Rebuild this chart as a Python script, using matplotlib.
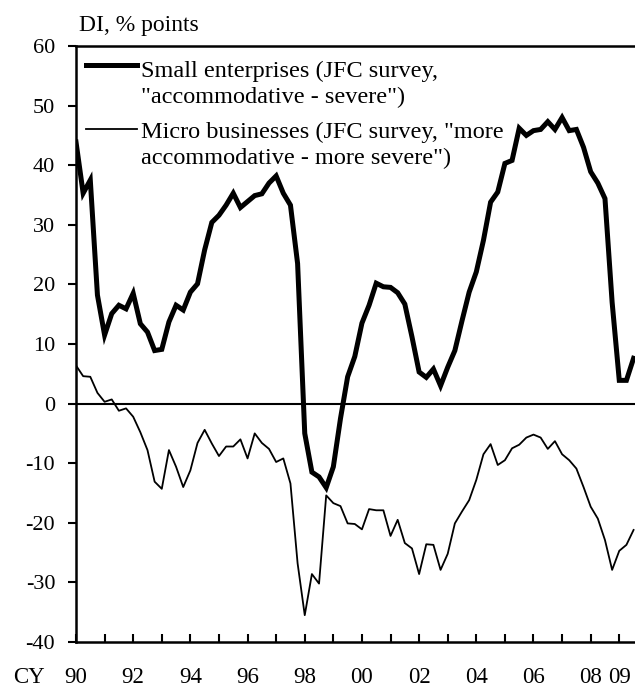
import numpy as np
import matplotlib
matplotlib.use("Agg")
import matplotlib.pyplot as plt

plt.rcParams["font.family"] = ["Liberation Serif", "DejaVu Serif"]
plt.rcParams["axes.unicode_minus"] = False

# Quarterly lending attitude DI, 1990 Q1 onward
start_year = 1990
small_enterprises = [
    43.9, 35.3, 37.5, 18.2, 11.5, 15.1, 16.5, 15.9, 18.5, 13.4,
    12.0, 8.9, 9.1, 13.7, 16.5, 15.7, 18.7, 20.1, 25.8, 30.4,
    31.6, 33.3, 35.3, 32.9, 33.9, 34.9, 35.2, 37.0, 38.2, 35.3,
    33.3, 23.5, -5.0, -11.5, -12.3, -14.1, -10.6, -2.5, 4.5, 7.9,
    13.5, 16.5, 20.2, 19.6, 19.5, 18.6, 16.7, 11.2, 5.3, 4.4,
    5.8, 3.0, 6.1, 8.9, 13.9, 18.7, 22.1, 27.4, 33.8, 35.5,
    40.3, 40.8, 46.2, 45.0, 45.8, 46.0, 47.3, 46.0, 48.0, 45.8,
    46.0, 43.0, 38.9, 37.0, 34.4, 17.0, 3.9, 3.9, 7.6,
]
micro_businesses = [
    6.4, 4.6, 4.5, 1.8, 0.3, 0.7, -1.2, -0.8, -2.2, -4.8,
    -7.8, -13.1, -14.3, -7.8, -10.6, -14.0, -11.2, -6.6, -4.4, -6.7,
    -8.8, -7.2, -7.2, -6.0, -9.2, -5.0, -6.6, -7.6, -9.8, -9.2,
    -13.4, -26.8, -35.5, -28.6, -30.2, -15.4, -16.7, -17.2, -20.1, -20.2,
    -21.1, -17.7, -17.9, -17.9, -22.2, -19.5, -23.4, -24.3, -28.6, -23.6,
    -23.7, -27.9, -25.2, -20.1, -18.1, -16.2, -12.8, -8.5, -6.8, -10.3,
    -9.5, -7.5, -6.9, -5.7, -5.2, -5.7, -7.6, -6.3, -8.5, -9.5,
    -10.9, -14.0, -17.3, -19.3, -22.9, -27.9, -24.7, -23.7, -21.2,
]
year_ticks = list(range(1990, 2010))
year_labels = ["90", "92", "94", "96", "98", "00", "02", "04", "06", "08", "09"]
year_label_pos = [1990, 1992, 1994, 1996, 1998, 2000, 2002, 2004, 2006, 2008, 2009]
y_ticks = [-40, -30, -20, -10, 0, 10, 20, 30, 40, 50, 60]
legend_small = ["Small enterprises (JFC survey,", "\"accommodative - severe\")"]
legend_micro = ["Micro businesses (JFC survey, \"more",
                "accommodative - more severe\")"]

W, H = 635, 688
fig = plt.figure(figsize=(W / 100, H / 100), dpi=100)
ax = fig.add_axes([76 / W, (H - 642) / H, (W - 76) / W, 596 / H])

t = start_year + np.arange(len(small_enterprises)) / 4.0
ax.axhline(0, color="black", lw=1.5, zorder=1)
ax.plot(t, small_enterprises, color="black", lw=3.6, solid_joinstyle="miter",
        zorder=3)
ax.plot(t, micro_businesses, color="black", lw=1.3, zorder=2)

ax.set_xlim(1990, 2009.55)
ax.set_ylim(-40, 60)

for side in ["left", "bottom", "top"]:
    ax.spines[side].set_linewidth(1.8)
ax.spines["right"].set_visible(False)

ax.set_yticks(y_ticks)
ax.set_yticklabels([str(v) for v in y_ticks])
ax.tick_params(axis="y", direction="out", length=6, width=1.5, pad=9,
               labelsize=16)

ax.set_xticks(year_ticks)
ax.set_xticklabels([])
ax.tick_params(axis="x", direction="in", length=6, width=1.5)

def px(x, y):
    return x / W, 1 - y / H

_, label_base = px(0, 683)
for yr, lab in zip(year_label_pos, year_labels):
    xf = (ax.transData + fig.transFigure.inverted()).transform((yr, 0))[0]
    fig.text(xf, label_base, lab, ha="center", va="baseline", fontsize=16.5)
fig.text(29 / W, label_base, "CY", ha="center", va="baseline", fontsize=16.5)

fig.text(79 / W, 1 - 25 / H, "DI, % points", ha="left", va="center",
         fontsize=17)

# Key drawn inside the plotting area
for (y_line, lw, lines, y_base) in [
    (65, 3.6, legend_small, 77),
    (129, 1.3, legend_micro, 138),
]:
    x0, yl = px(86, y_line)
    x1, _ = px(137, y_line)
    fig.add_artist(plt.Line2D([x0, x1], [yl, yl], color="black", lw=lw,
                              transform=fig.transFigure))
    for k, s in enumerate(lines):
        tx, ty = px(141, y_base + 26.5 * k)
        fig.text(tx, ty, s, ha="left", va="baseline", fontsize=17.5)

fig.savefig("out.png", dpi=100)
